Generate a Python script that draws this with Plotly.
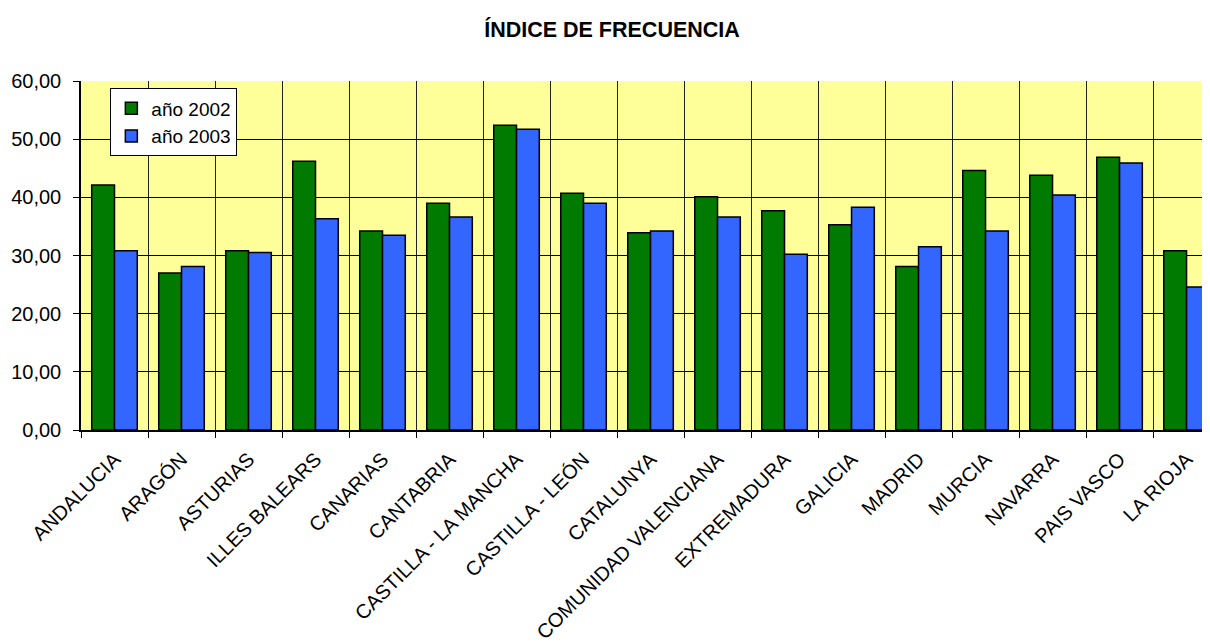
import plotly.graph_objects as go

categories = ["ANDALUCIA", "ARAGÓN", "ASTURIAS", "ILLES BALEARS", "CANARIAS", "CANTABRIA",
              "CASTILLA - LA MANCHA", "CASTILLA - LEÓN", "CATALUNYA", "COMUNIDAD VALENCIANA",
              "EXTREMADURA", "GALICIA", "MADRID", "MURCIA", "NAVARRA", "PAIS VASCO", "LA RIOJA"]
anio_2002 = [42.1, 27.0, 30.8, 46.2, 34.2, 39.0, 52.4, 40.7, 33.9, 40.1, 37.7, 35.3, 28.1, 44.6, 43.8, 46.9, 30.8]
anio_2003 = [30.8, 28.1, 30.5, 36.3, 33.5, 36.6, 51.7, 39.0, 34.2, 36.6, 30.2, 38.3, 31.5, 34.2, 40.4, 45.9, 24.6]
y_ticks = [0, 10, 20, 30, 40, 50, 60]

fig = go.Figure()
fig.add_trace(go.Bar(x=categories, y=anio_2002, name="año 2002",
                     marker=dict(color="#007A00", line=dict(color="black", width=1.5))))
fig.add_trace(go.Bar(x=categories, y=anio_2003, name="año 2003",
                     marker=dict(color="#3366FF", line=dict(color="black", width=1.5))))

# page body has an 8px default margin, so the figure is shifted by 8px
fig.update_layout(
    width=1202, height=636,
    margin=dict(l=73, r=0, t=73, b=214, autoexpand=False),
    paper_bgcolor="white", plot_bgcolor="#FFFF99",
    separators=", ",
    barmode="group", bargap=0.32, bargroupgap=0,
    font=dict(family="Arial, Liberation Sans, sans-serif", size=20, color="black"),
    title=dict(text="<b>ÍNDICE DE FRECUENCIA</b>", x=0.5025, xanchor="center", y=0.967, yanchor="middle",
               font=dict(size=21.5, color="black")),
    legend=dict(x=0.026, y=0.979, xanchor="left", yanchor="top",
                bgcolor="white", bordercolor="black", borderwidth=1,
                font=dict(size=19), itemwidth=30, tracegroupgap=0),
    showlegend=True,
)
fig.update_xaxes(
    range=[-0.5, 16.35], tickson="boundaries", ticks="outside", ticklen=6, tickcolor="black",
    showgrid=True, gridcolor="#222222", gridwidth=1, tickangle=-45,
    showline=True, linecolor="black", linewidth=1.5, automargin=False,
    tickfont=dict(size=20), ticklabelstandoff=8,
)
fig.update_yaxes(
    range=[0, 60], tickvals=y_ticks, tickformat=".2f", ticks="outside", ticklen=6, tickcolor="black",
    showgrid=True, gridcolor="black", gridwidth=1,
    showline=True, linecolor="black", linewidth=1.5, automargin=False,
    tickfont=dict(size=20), zeroline=False, ticklabelstandoff=8,
)

fig.write_html("out.html")
